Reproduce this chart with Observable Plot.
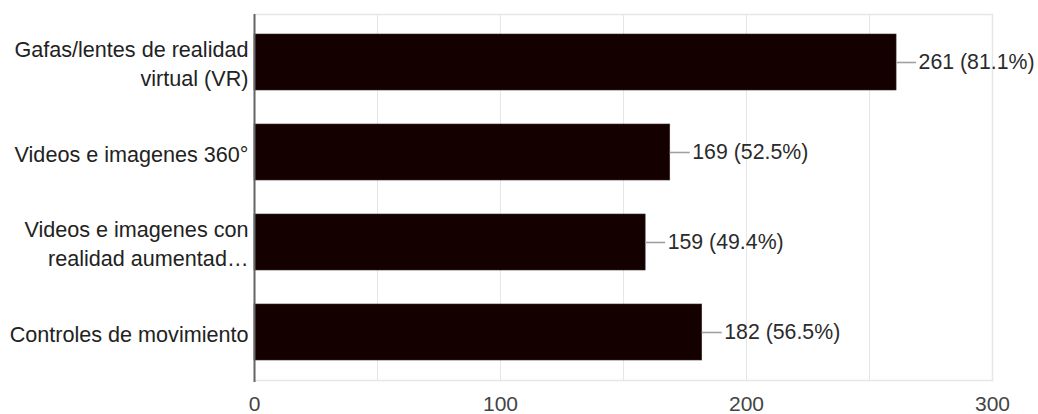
<!DOCTYPE html>
<html>
<head>
<meta charset="utf-8">
<script src="https://cdn.jsdelivr.net/npm/d3@7"></script>
<script src="https://cdn.jsdelivr.net/npm/@observablehq/plot@0.6"></script>
<style>
  html, body { margin: 0; padding: 0; background: #fff; }
  #chart svg { display: block; }
</style>
</head>
<body>
<div id="chart"></div>
<script>
// Survey answers: responses per device type
const categories = [
  "Gafas/lentes de realidad\nvirtual (VR)",
  "Videos e imagenes 360°",
  "Videos e imagenes con\nrealidad aumentad…",
  "Controles de movimiento"
];
const counts = [261, 169, 159, 182];
const percents = ["81.1%", "52.5%", "49.4%", "56.5%"];
const xTicks = [0, 100, 200, 300];
const gridTicks = [50, 100, 150, 200, 250];

const rows = categories.map((c, i) => ({
  category: c,
  count: counts[i],
  label: `${counts[i]} (${percents[i]})`
}));

const chart = Plot.plot({
  width: 1038,
  height: 414,
  marginLeft: 254,
  marginRight: 46,
  marginTop: 14,
  marginBottom: 34,
  style: {
    fontFamily: "'Liberation Sans', Arial, sans-serif",
    fontSize: "21px",
    background: "#ffffff"
  },
  x: { domain: [0, 300] },
  y: { domain: categories, paddingInner: 0.374, paddingOuter: 0.198 },
  marks: [
    Plot.gridX(gridTicks, { stroke: "#e6e6e6", strokeOpacity: 1, strokeWidth: 1 }),
    Plot.frame({ stroke: "#e6e6e6", strokeWidth: 1.5 }),
    Plot.barX(rows, { y: "category", x: "count", fill: "#150000", stroke: "#3a2a2a", strokeWidth: 0.6 }),
    Plot.ruleY(rows, { y: "category", x1: "count", x2: "count", insetRight: -20, stroke: "#a0a0a0", strokeWidth: 1.6 }),
    Plot.text(rows, { y: "category", x: "count", text: "label", textAnchor: "start", dx: 22, fill: "#2b2b2b", fontSize: 21.3 }),
    Plot.ruleX([0], { stroke: "#666666", strokeWidth: 2, insetBottom: -2 }),
    Plot.axisX(xTicks, { tickSize: 0, tickPadding: 16, fill: "#444444", fontSize: 21, label: null }),
    Plot.axisY({ tickSize: 0, tickPadding: 6, fill: "#222222", fontSize: 21.6, lineHeight: 1.3, label: null, textOverflow: null, lineWidth: Infinity })
  ]
});

document.getElementById("chart").appendChild(chart);
</script>
</body>
</html>
